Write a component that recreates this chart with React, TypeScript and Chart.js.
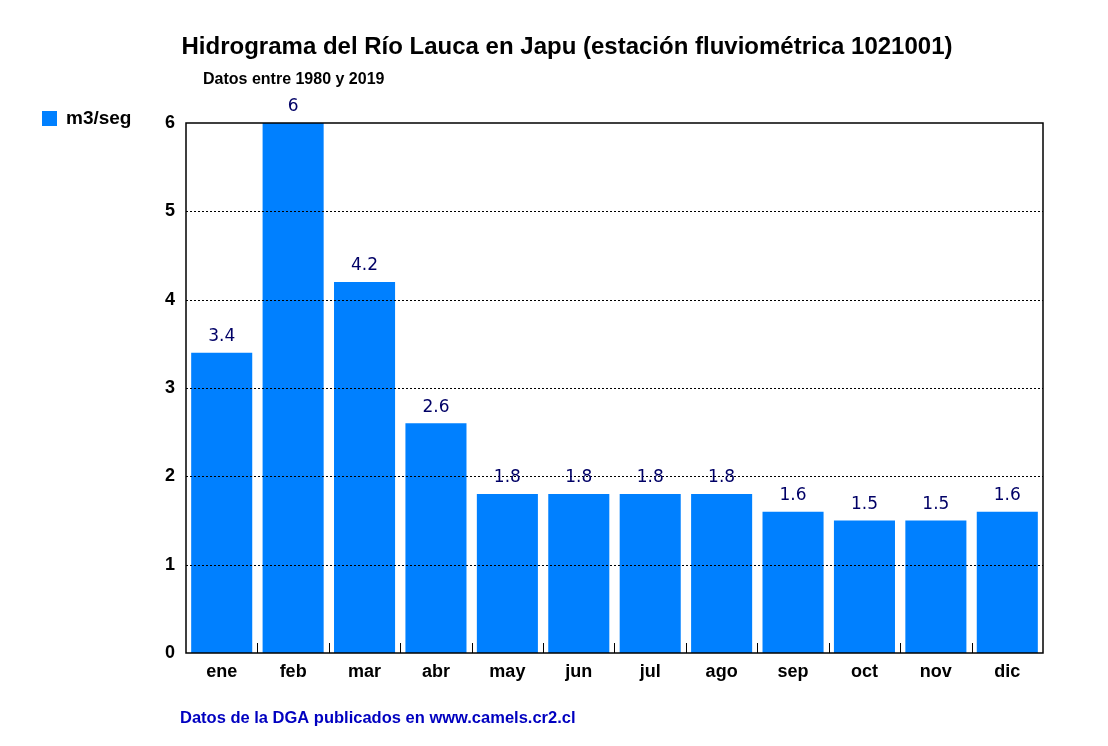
import React, { useEffect, useRef } from "react";
import { Chart, registerables } from "chart.js";

Chart.register(...registerables);

const months = ["ene", "feb", "mar", "abr", "may", "jun", "jul", "ago", "sep", "oct", "nov", "dic"];
const flow = [3.4, 6, 4.2, 2.6, 1.8, 1.8, 1.8, 1.8, 1.6, 1.5, 1.5, 1.6];
const yTicks = [0, 1, 2, 3, 4, 5, 6];

const TITLE = "Hidrograma del Río Lauca en Japu (estación fluviométrica 1021001)";
const SUBTITLE = "Datos entre 1980 y 2019";
const SERIES = "m3/seg";
const FOOTER = "Datos de la DGA publicados en www.camels.cr2.cl";

const BAR = "#0080ff";
const SANS = "'Liberation Sans', Arial, sans-serif";

export default function App() {
  const canvasRef = useRef<HTMLCanvasElement>(null);
  const chartRef = useRef<Chart | null>(null);

  useEffect(() => {
    document.body.style.margin = "0";
    if (!canvasRef.current) return;
    chartRef.current?.destroy();

    chartRef.current = new Chart(canvasRef.current, {
      type: "bar",
      data: {
        labels: months,
        datasets: [
          {
            label: SERIES,
            data: flow,
            backgroundColor: BAR,
            borderWidth: 0,
            barPercentage: 0.855,
            categoryPercentage: 1,
          },
        ],
      },
      options: {
        responsive: false,
        animation: false,
        layout: { padding: { top: 123, right: 65, bottom: 60, left: 150 } },
        plugins: {
          legend: { display: false },
          title: { display: false },
          tooltip: { enabled: false },
        },
        scales: {
          x: {
            grid: { display: false },
            border: { display: false },
            ticks: {
              color: "#000",
              font: { family: SANS, size: 18, weight: "bold" },
              padding: 0,
              maxRotation: 0,
            },
            afterFit: (s: any) => {
              s.height = 33;
            },
          },
          y: {
            min: 0,
            max: 6,
            afterBuildTicks: (s: any) => {
              s.ticks = yTicks.map((v) => ({ value: v }));
            },
            grid: { display: false, drawTicks: false },
            border: { display: false },
            ticks: {
              color: "#000",
              font: { family: SANS, size: 18, weight: "bold" },
              padding: 11,
            },
            afterFit: (s: any) => {
              s.width = 36;
            },
          },
        },
      },
      plugins: [
        {
          id: "decor",
          afterDatasetsDraw: (chart: any) => {
            const ctx = chart.ctx;
            const { left, right, top, bottom } = chart.chartArea;
            const xs = chart.scales.x;
            const ys = chart.scales.y;
            ctx.save();

            // dotted gridlines on top of the bars
            ctx.strokeStyle = "#000";
            ctx.lineWidth = 1;
            ctx.setLineDash([2, 2]);
            yTicks.forEach((v) => {
              if (v === 0 || v === 6) return;
              const y = Math.round(ys.getPixelForValue(v)) + 0.5;
              ctx.beginPath();
              ctx.moveTo(left, y);
              ctx.lineTo(right, y);
              ctx.stroke();
            });
            ctx.setLineDash([]);

            // frame
            ctx.lineWidth = 1.5;
            ctx.strokeRect(left, top, right - left, bottom - top);

            // boundary tick marks
            ctx.lineWidth = 1;
            const step = xs.getPixelForValue(1) - xs.getPixelForValue(0);
            for (let i = 1; i < months.length; i++) {
              const x = Math.round(xs.getPixelForValue(i) - step / 2) + 0.5;
              ctx.beginPath();
              ctx.moveTo(x, bottom);
              ctx.lineTo(x, bottom - 10);
              ctx.stroke();
            }

            // value labels
            const meta = chart.getDatasetMeta(0);
            ctx.fillStyle = "#000066";
            ctx.font = "17px 'DejaVu Sans', Verdana, sans-serif";
            ctx.textAlign = "center";
            ctx.textBaseline = "middle";
            meta.data.forEach((bar: any, i: number) => {
              ctx.fillText(String(flow[i]), bar.x, bar.y - 16);
            });
            ctx.restore();
          },
          afterDraw: (chart: any) => {
            const ctx = chart.ctx;
            ctx.save();
            ctx.textBaseline = "middle";

            // title
            ctx.fillStyle = "#000";
            ctx.textAlign = "center";
            ctx.font = `bold 24px ${SANS}`;
            ctx.fillText(TITLE, 567, 47);

            // subtitle
            ctx.font = `bold 16px ${SANS}`;
            ctx.textAlign = "left";
            ctx.fillText(SUBTITLE, 203, 80);

            // legend
            ctx.fillStyle = BAR;
            ctx.fillRect(42, 111, 15, 15);
            ctx.fillStyle = "#000";
            ctx.font = `bold 19px ${SANS}`;
            ctx.fillText(SERIES, 66, 119);

            // footer
            ctx.fillStyle = "#0000c0";
            ctx.font = `bold 16.5px ${SANS}`;
            ctx.fillText(FOOTER, 180, 718);

            ctx.restore();
          },
        },
      ],
    } as any);

    return () => {
      chartRef.current?.destroy();
      chartRef.current = null;
    };
  }, []);

  return (
    <div style={{ width: 1108, height: 746, background: "#fff" }}>
      <canvas ref={canvasRef} width={1108} height={746} />
    </div>
  );
}
